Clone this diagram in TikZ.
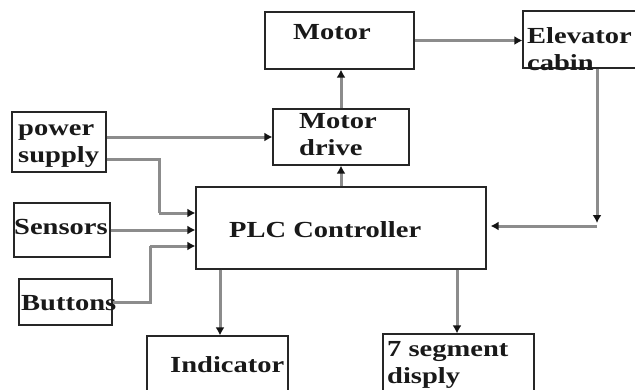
\documentclass[tikz,border=0pt]{standalone}
\usepackage{fontspec}
\setmainfont{Liberation Serif}[FakeStretch=1.24]
\usetikzlibrary{arrows.meta}
\definecolor{wire}{RGB}{140,140,140}
\definecolor{tipc}{RGB}{20,20,20}
\begin{document}
\begin{tikzpicture}[x=1pt,y=-1pt,
  blk/.style={draw=black!85,line width=1.2pt,rectangle,inner sep=0pt},
  lbl/.style={inner sep=0pt,anchor=base west,align=left,
    font=\bfseries\fontsize{23}{26.5}\selectfont,text=black!90},
  arr/.style={draw=wire,line width=3pt,
    -{Latex[length=8pt,width=9pt,color=tipc]}},
  ln/.style={draw=wire,line width=3pt}]
\useasboundingbox (0,0) rectangle (635,389);
\clip (0,0) rectangle (635,389);
\fill[white] (0,0) rectangle (635,389);

% blocks (corners given in image units, y downwards)
\node[blk,minimum width=149pt,minimum height=57pt] (motor) at (339.5,40.5) {};
\node[blk,minimum width=120pt,minimum height=57pt] (cabin) at (583,39.5) {};
\node[blk,minimum width=136pt,minimum height=56pt] (mdrive) at (341,137) {};
\node[blk,minimum width=94pt,minimum height=60pt] (power) at (59,142) {};
\node[blk,minimum width=290pt,minimum height=82pt] (plc) at (341,228) {};
\node[blk,minimum width=96pt,minimum height=54pt] (sensors) at (62,230) {};
\node[blk,minimum width=93pt,minimum height=46pt] (buttons) at (65.5,302) {};
\node[blk,minimum width=141pt,minimum height=70pt] (ind) at (217.5,371) {};
\node[blk,minimum width=151pt,minimum height=70pt] (seg) at (458.5,369) {};

% labels (two-line labels are placed by their last baseline)
\node[lbl] (tmotor) at (293,39) {Motor};
\node[lbl] (tcabin) at (527,70) {Elevator\\cabin};
\node[lbl] (tmdrive) at (299,155) {Motor\\drive};
\node[lbl] (tpower) at (18,162) {power\\supply};
\node[lbl] (tplc) at (229,237) {PLC Controller};
\node[lbl] (tsens) at (14,234) {Sensors};
\node[lbl] (tbut) at (21,310) {Buttons};
\node[lbl] (tind) at (170,372) {Indicator};
\node[lbl] (tseg) at (387,383) {7 segment\\disply};

% junction points of the routed wires
\coordinate (j1) at (159,213);
\coordinate (j2) at (150,246);
\coordinate (c1) at (597,226);

% connectors
\draw[arr] (mdrive.north) -- (mdrive.north |- motor.south);
\draw[arr] (mdrive.south |- plc.north) -- (mdrive.south);
\draw[arr] (motor.east) -- (motor.east -| cabin.west);
\draw[arr] (power.east |- mdrive.west) -- (mdrive.west);
\draw[ln] ([yshift=-17pt]power.east) -| (j1);
\draw[arr] (j1) -- (j1 -| plc.west);
\draw[arr] (sensors.east) -- (sensors.east -| plc.west);
\draw[ln] (buttons.east) -| (j2);
\draw[arr] (j2) -- (j2 -| plc.west);
\draw[arr] (cabin.south -| c1) -- ([yshift=3pt]c1);
\draw[arr] (c1) -- ([xshift=4pt]c1 -| plc.east);
\draw[arr] ([xshift=-121pt]plc.south) -- ([xshift=-121pt]plc.south |- ind.north);
\draw[arr] ([xshift=116pt]plc.south) -- ([xshift=116pt]plc.south |- seg.north);
\end{tikzpicture}
\end{document}
